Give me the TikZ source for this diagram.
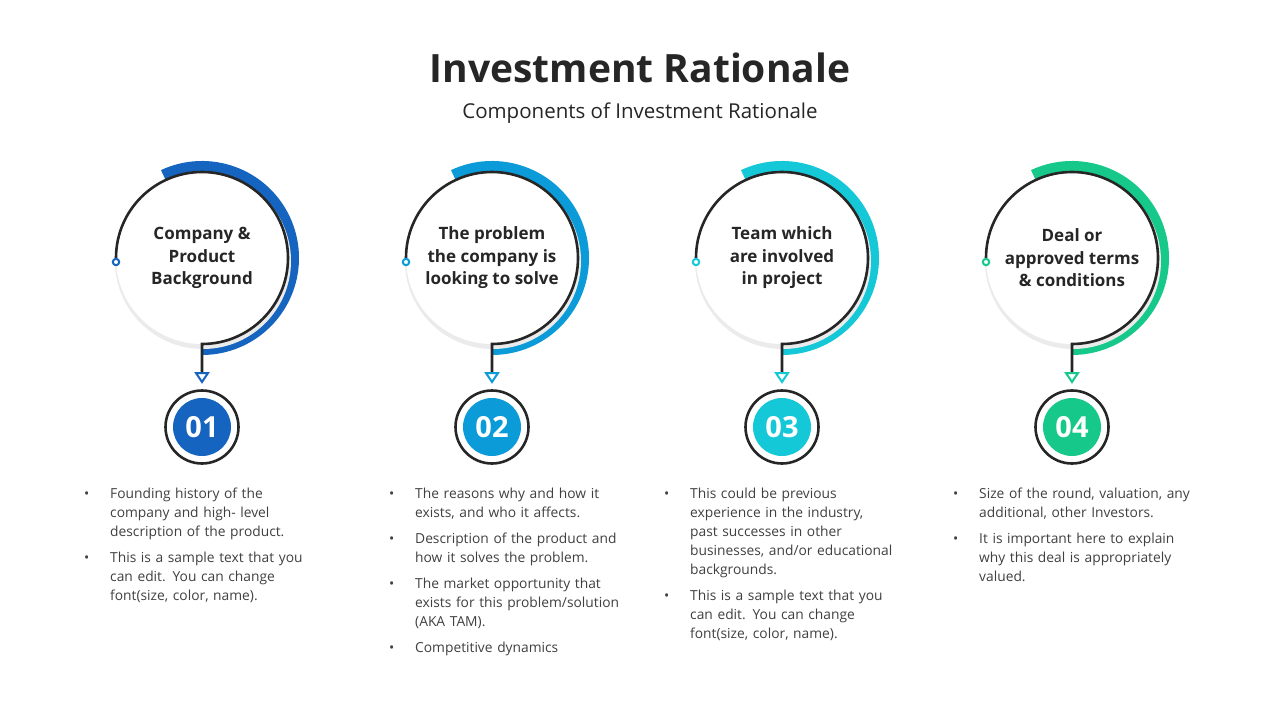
\documentclass[tikz,border=0pt]{standalone}
\usepackage{fontspec}
\setmainfont{Open Sans}
\definecolor{cA}{HTML}{1565C0}
\definecolor{cB}{HTML}{0A9BD8}
\definecolor{cC}{HTML}{14C8D8}
\definecolor{cD}{HTML}{16C98A}
\definecolor{ink}{HTML}{262626}
\definecolor{txt}{HTML}{404040}
\newcommand{\bit}[1]{\par\noindent\hyphenpenalty=10000\exhyphenpenalty=10000\hangindent=27pt\hangafter=0\leavevmode\llap{\textbullet\hspace{21pt}}#1\par\vspace{7pt}}
\tikzset{
 body/.style={anchor=north west,text width=240pt,align=left,font=\fontsize{13.8}{19}\selectfont,text=txt,inner sep=0pt},
 lab/.style={align=center,font=\fontsize{17}{22.5}\selectfont\bfseries,text=ink},
 num/.style={font=\fontsize{29}{30}\selectfont\bfseries,text=white}
}
\begin{document}
\begin{tikzpicture}[x=1pt,y=-1pt]
\useasboundingbox (0,0) rectangle (1280,720);
\fill[white] (0,0) rectangle (1280,720);
\node (title) at (640,68) {\fontsize{39}{42}\selectfont\bfseries\color{ink}Investment Rationale};
\node (sub) at (640,113) {\fontsize{20.5}{24}\selectfont\color{ink}Components of Investment Rationale};
\foreach \cx/\col/\n/\t [count=\i] in {202/cA/01/{Company \&\\Product\\Background},492/cB/02/{The problem\\the company is\\looking to solve},782/cC/03/{Team which\\are involved\\in project},1072/cD/04/{Deal or\\approved terms\\\& conditions}}{
  \fill[\col] (\cx,258) ++(-115:97) arc[start angle=-115,end angle=90,radius=97] -- (\cx,258) -- cycle;
  \fill[black!8] (\cx+1,261) circle[radius=88];
  \fill[white] (\cx,258) circle[radius=86];
  \node[lab] (c\i) at (\cx,258) {\t};
  \draw[ink,line width=2.6pt] (\cx-86,258) arc[start angle=-180,end angle=90,radius=86] -- (\cx,374);
  \draw[\col,line width=2pt,fill=white] (\cx-86,262) circle[radius=3.2];
  \draw[\col,line width=2pt,fill=white,line join=miter] (\cx-6,373) -- (\cx+6,373) -- (\cx,382) -- cycle;
  \draw[ink,line width=2.6pt,fill=white] (\cx,427) circle[radius=36.5];
  \fill[\col] (\cx,427) circle[radius=29];
  \node[num] (n\i) at (\cx,427) {\n};
}
\node[body] (b1) at (83,479) {\bit{Founding history of the company and high- level description of the product.}\bit{This is a sample text that you can edit. You can change font(size, color, name).}};
\node[body] (b2) at (388,479) {\bit{The reasons why and how it exists, and who it affects.}\bit{Description of the product and how it solves the problem.}\bit{The market opportunity that exists for this problem/solution (AKA TAM).}\bit{Competitive dynamics}};
\node[body] (b3) at (663,479) {\bit{This could be previous experience in the industry, past successes in other businesses, and/or educational backgrounds.}\bit{This is a sample text that you can edit. You can change font(size, color, name).}};
\node[body] (b4) at (952,479) {\bit{Size of the round, valuation, any additional, other Investors.}\bit{It is important here to explain why this deal is appropriately valued.}};
\end{tikzpicture}
\end{document}
